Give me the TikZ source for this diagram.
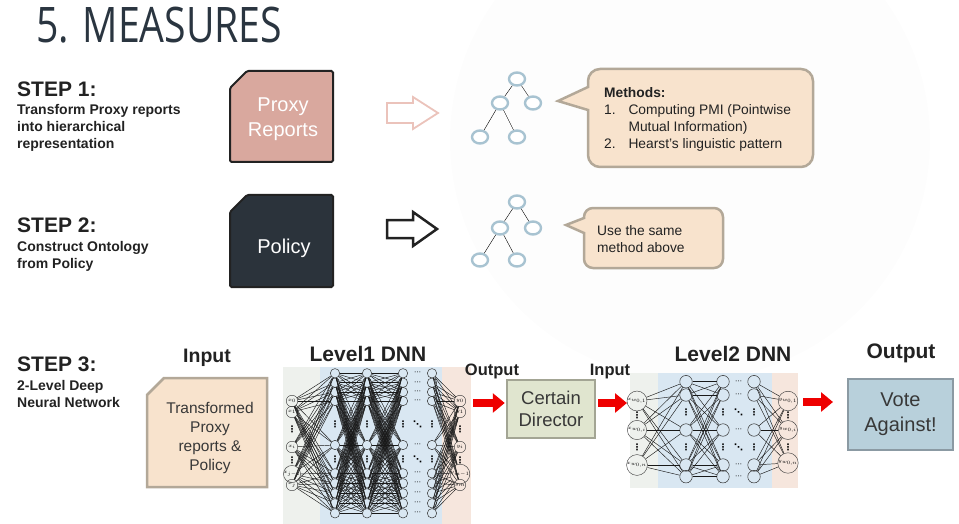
\documentclass[tikz,border=0pt]{standalone}
\usepackage{fontspec}
\setmainfont{Liberation Sans}
\newfontfamily\titlefont[FakeStretch=0.8]{Open Sans}
\newfontfamily\dotfont{DejaVu Sans}
\usetikzlibrary{shapes.geometric,arrows.meta,positioning}

\definecolor{titlecol}{HTML}{2A3540}
\definecolor{inkcol}{HTML}{222222}
\definecolor{proxyfill}{HTML}{D9A89E}
\definecolor{policyfill}{HTML}{2B333B}
\definecolor{peach}{HTML}{F8E3CD}
\definecolor{calline}{HTML}{B3A898}
\definecolor{treeblue}{HTML}{A8C3D1}
\definecolor{pinkarrow}{HTML}{EBC3BB}
\definecolor{sage}{HTML}{E0E5CF}
\definecolor{sageline}{HTML}{A3A594}
\definecolor{votefill}{HTML}{B8D0DB}
\definecolor{voteline}{HTML}{8B9AA3}
\definecolor{bgleft}{HTML}{EEF1ED}
\definecolor{bgblue}{HTML}{D9E7F2}
\definecolor{bgpink}{HTML}{F6E6DD}
\definecolor{netred}{HTML}{EE0000}

\tikzset{
  steptitle/.style={anchor=base west,inner sep=0,text=inkcol,font=\fontsize{21}{21}\selectfont\bfseries},
  stepsub/.style={anchor=north west,inner sep=0,align=left,text=inkcol,font=\fontsize{14}{17}\selectfont\bfseries},
  head/.style={anchor=base,inner sep=0,text=inkcol,font=\fontsize{#1}{#1}\selectfont\bfseries},
  note/.style={anchor=base west,inner sep=0,text=inkcol,font=\fontsize{13.8}{17}\selectfont},
  tnode/.style={ellipse,draw=treeblue,line width=2.4pt,fill=white,minimum width=16pt,minimum height=13pt,inner sep=0},
  nin/.style={circle,draw=black!75,line width=0.45pt,inner sep=0,minimum size=#1,font=\fontsize{4.5}{4.5}\selectfont},
  hid/.style={circle,draw=black!80,line width=0.5pt,inner sep=0,minimum size=#1},
  dts/.style={inner sep=0,font=\dotfont\bfseries\fontsize{9}{9}\selectfont},
  syn/.style={draw=black!90,line width=0.45pt},
  redarr/.style={draw=netred,line width=8pt,-{Triangle[length=12pt,width=19pt]}}
}

\begin{document}
\begin{tikzpicture}[x=1pt,y=-1pt]
\useasboundingbox (0,0) rectangle (959,524);
\fill[black!0.8] (690,140) circle (240);

% title and steps
\node[anchor=base west,inner sep=0,text=titlecol,font=\titlefont\fontsize{49}{49}\selectfont] (title) at (36,43) {5. MEASURES};
\node[steptitle] (st1) at (17,97) {STEP 1:};
\node[stepsub] (st1t) at (17,104.3) {Transform Proxy reports\\into hierarchical\\representation};
\node[steptitle] (st2) at (17,232) {STEP 2:};
\node[stepsub] (st2t) at (17,241.5) {Construct Ontology\\from Policy};
\node[steptitle] (st3) at (17,371.7) {STEP 3:};
\node[stepsub] (st3t) at (17,380.5) {2-Level Deep\\Neural Network};

% source boxes
\filldraw[fill=proxyfill,draw=inkcol,line width=2pt,rounded corners=1.5pt] (247,71) -- (333,71) -- (333,162) -- (230,162) -- (230,88) -- cycle;
\node[text=white,align=center,font=\fontsize{20}{25}\selectfont] (proxy) at (283,119) {Proxy\\Reports};
\filldraw[fill=policyfill,draw=inkcol,line width=2pt,rounded corners=1.5pt] (247,195) -- (333,195) -- (333,287) -- (230,287) -- (230,212) -- cycle;
\node[text=white,anchor=base,font=\fontsize{20}{25}\selectfont] (policy) at (284,253) {Policy};

% hollow arrows
\draw[draw=pinkarrow,line width=1.8pt,fill=white] (387,103) -- (413,103) -- (413,97) -- (438,113) -- (413,129) -- (413,123) -- (387,123) -- cycle;
\draw[draw=inkcol,line width=2.5pt,fill=white] (387,220) -- (413,220) -- (413,212) -- (437,229) -- (413,246) -- (413,238) -- (387,238) -- cycle;

% trees
\node[tnode] (t1) at (517,79) {};
\node[tnode] (t2) at (500,103) {};
\node[tnode] (t3) at (533,103) {};
\node[tnode] (t4) at (480,137) {};
\node[tnode] (t5) at (517,137) {};
\draw  (t1) edge (t2);
\draw  (t1) edge (t3);
\draw  (t2) edge (t4);
\draw  (t2) edge (t5);
\node[tnode] (u1) at (517,202) {};
\node[tnode] (u2) at (500,228) {};
\node[tnode] (u3) at (533,228) {};
\node[tnode] (u4) at (480,260) {};
\node[tnode] (u5) at (517,260) {};
\draw  (u1) edge (u2);
\draw  (u1) edge (u3);
\draw  (u2) edge (u4);
\draw  (u2) edge (u5);

% callouts
\filldraw[fill=peach,draw=calline,line width=2.5pt] (588,87) [rounded corners=12pt] -- (588,69) -- (813,69) -- (813,167) -- (588,167) [sharp corners] -- (588,110) -- (558,101) -- cycle;
\node[note,font=\fontsize{13.8}{17}\selectfont\bfseries] (m0) at (604,97.3) {Methods:};
\node[note] (m1) at (604,114.3) {1.};
\node[note] (m1t) at (628.3,114.3) {Computing PMI (Pointwise};
\node[note] (m1u) at (628.3,131.3) {Mutual Information)};
\node[note] (m2) at (604,148.3) {2.};
\node[note] (m2t) at (628.3,148.3) {Hearst’s linguistic pattern};
\filldraw[fill=peach,draw=calline,line width=2.5pt] (584,218) [rounded corners=9pt] -- (584,208) -- (723,208) -- (723,268) -- (584,268) [sharp corners] -- (584,233) -- (566,225) -- cycle;
\node[note] (n1) at (597,235.3) {Use the same};
\node[note] (n2) at (597,252.3) {method above};

% step 3 input
\node[head=19.5] (lin) at (207,362) {Input};
\filldraw[fill=peach,draw=calline,line width=2.5pt] (164,378) -- (267,378) -- (267,487) -- (147,487) -- (147,395) -- cycle;
\node[align=center,text=inkcol!90,font=\fontsize{15.5}{19}\selectfont] (inbox) at (210,438) {Transformed\\Proxy\\reports \&\\Policy};

% level 1 network
\node[head=21] (lvl1) at (368,361.7) {Level1 DNN};
\fill[bgleft] (283,367) rectangle (320,524);
\fill[bgblue] (320,367) rectangle (442,524);
\fill[bgpink] (442,367) rectangle (471,524);
\foreach \y/\t [count=\k] in {401/x_0,412/x_1,447/x_i,474/{x_{j-1}},485/x_j}
  \node[nin=11.5pt] (a\k) at (292,\y) {$\t$};
\foreach \y/\t [count=\k] in {401/y_0,412/y_1,447/y_i,474/{y_{m-1}},485/y_m}
  \node[nin=11.5pt] (z\k) at (460,\y) {$\t$};
\foreach \y [count=\k] in {429.5,460.5} {
  \node[dts] (ad\k) at (292,\y) {⋮};
  \node[dts] (zd\k) at (460,\y) {⋮};
}
\foreach \c/\x in {1/335,2/367,3/403,4/432} {
  \foreach \y [count=\k] in {373.3,382.7,392,401,445,473.3,483.3,493.3,503.3,513.3}
    \node[hid=9.4pt] (h\c-\k) at (\x,\y) {};
  \foreach \y [count=\k] in {424,459}
    \node[dts] (hd\c-\k) at (\x,\y) {⋮};
}
\foreach \y [count=\k] in {373.3,382.7,392,401,445,473.3,483.3,493.3,503.3,513.3}
  \node[dts,font=\dotfont\fontsize{7}{7}\selectfont] (hr\k) at (417.5,\y) {⋯};
\foreach \y [count=\k] in {424,459}
  \node[dts] (hx\k) at (417.5,\y) {⋱};
\foreach \i in {1,...,5}
  \foreach \k in {1,...,10}
    \draw[syn] (a\i) -- (h1-\k);
\foreach \c/\d in {1/2,2/3}
  \foreach \i in {1,...,10}
    \foreach \k in {1,...,10}
      \draw[syn] (h\c-\i) -- (h\d-\k);
\foreach \i in {1,...,10}
  \foreach \k in {1,...,5}
    \draw[syn] (h4-\i) -- (z\k);

% certain director
\node[head=16.5] (lout1) at (492,375) {Output};
\node[head=16.5] (lin2) at (610,375) {Input};
\node[draw=sageline,fill=sage,line width=2.5pt,minimum width=88pt,minimum height=58pt,align=center,text=inkcol!90,font=\fontsize{18.5}{22}\selectfont] (dir) at (551,409) {Certain\\Director};
\coordinate (o1) at (473,403);
\coordinate (i2) at (627,403);
\draw[redarr,shorten >=1pt] (o1) -- (dir.west |- o1);
\draw[redarr,shorten <=2pt] (dir.east |- i2) -- (i2);

% level 2 network
\node[head=21] (lvl2) at (733,361.7) {Level2 DNN};
\fill[bgleft] (630,373) rectangle (658,488);
\fill[bgblue] (658,373) rectangle (772,488);
\fill[bgpink] (772,373) rectangle (798,488);
\foreach \y/\t [count=\k] in {401/{x_{w_{0,1}}},430/{x_{w_{0,i}}},465/{x_{w_{0,n}}}}
  \node[nin=14pt,font=\fontsize{3.5}{3.5}\selectfont] (b\k) at (637,\y) {$\t$};
\foreach \y/\t [count=\k] in {401/{y_{w_{0,1}}},430/{y_{w_{0,i}}},463/{y_{w_{0,n}}}}
  \node[nin=12pt,font=\fontsize{3.2}{3.2}\selectfont] (w\k) at (788,\y) {$\t$};
\foreach \y [count=\k] in {415.5,447.5} {
  \node[dts] (bd\k) at (637,\y) {⋮};
  \node[dts] (wd\k) at (788,\y) {⋮};
}
\foreach \c/\x in {1/686,2/723,3/754} {
  \foreach \y [count=\k] in {381.7,395,430,465,476.7}
    \node[hid=12.5pt] (g\c-\k) at (\x,\y) {};
  \foreach \y [count=\k] in {412.5,447.5}
    \node[dts] (gd\c-\k) at (\x,\y) {⋮};
}
\foreach \y [count=\k] in {381.7,395,430,465,476.7}
  \node[dts,font=\dotfont\fontsize{7}{7}\selectfont] (gr\k) at (738.5,\y) {⋯};
\foreach \y [count=\k] in {412.5,447.5}
  \node[dts] (gx\k) at (738.5,\y) {⋱};
\foreach \i in {1,...,3}
  \foreach \k in {1,...,5}
    \draw[syn] (b\i) -- (g1-\k);
\foreach \i in {1,...,5}
  \foreach \k in {1,...,5}
    \draw[syn] (g1-\i) -- (g2-\k);
\foreach \i in {1,...,5}
  \foreach \k in {1,...,3}
    \draw[syn] (g3-\i) -- (w\k);

% result
\node[head=21] (lout2) at (901,358) {Output};
\node[draw=voteline,fill=votefill,line width=2.5pt,minimum width=105pt,minimum height=71pt,align=center,text=inkcol!90,font=\fontsize{20}{25}\selectfont] (vote) at (900.5,414.5) {Vote\\Against!};
\coordinate (o2) at (803,402);
\coordinate (i3) at (833,402);
\draw[redarr] (o2) -- (i3);
\end{tikzpicture}
\end{document}
